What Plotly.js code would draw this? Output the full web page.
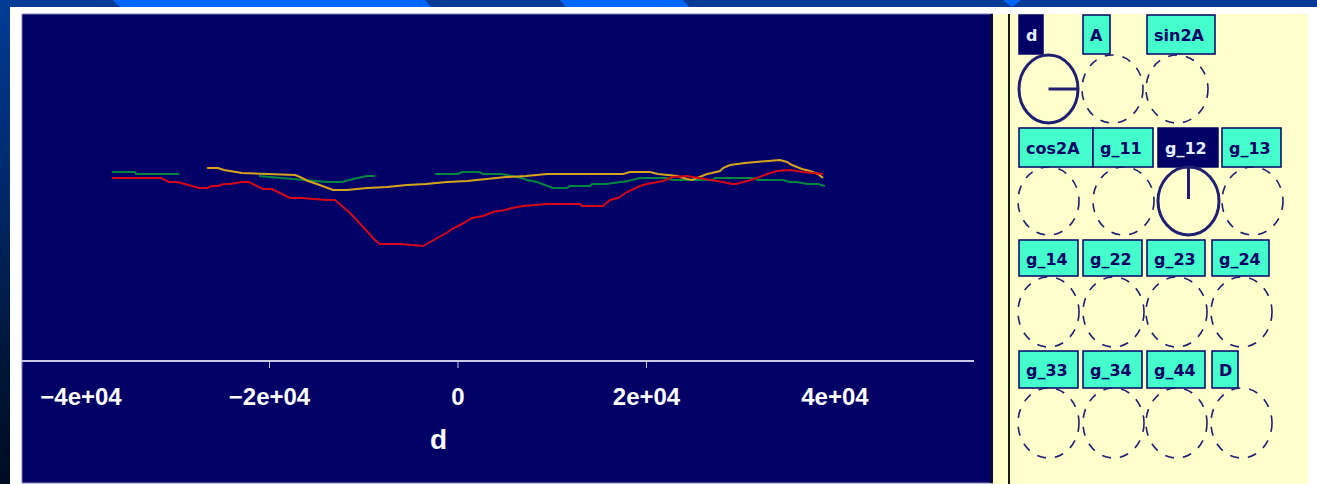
<!DOCTYPE html>
<html>
<head>
<meta charset="utf-8">
<script src="https://cdn.plot.ly/plotly-3.0.1.min.js"></script>
<style>
  html, body { margin: 0; padding: 0; background: #ffffff; }
  #wrap { position: relative; width: 1317px; height: 484px; overflow: hidden; background: #ffffff; }
  #leftbar { position: absolute; left: 0; top: 0; width: 10px; height: 484px;
             background: linear-gradient(to bottom, #003C96 0%, #002a6e 35%, #001638 75%, #000c22 100%); }
  #chart { position: absolute; left: 0; top: 0; width: 1317px; height: 484px; }
</style>
</head>
<body>
<div id="wrap">
  <div id="leftbar"></div>
  <div id="chart"></div>
</div>
<script>
// ---------------- data ----------------
const redD = [-36710,-31510,-30660,-29920,-28970,-27480,-26630,-26100,-25460,-24830,-24190,-22920,-22180,-21220,-20690,-19740,-18670,-17830,-16550,-14010,-13050,-11460,-9870,-8810,-8280,-6150,-3710,-2970,-1910,-1060,-640,420,1490,2650,3710,4990,5730,6900,9440,12940,13160,15390,16130,16980,17930,19310,20050,21010,21750,22810,24300,24930,26420,27480,28120,29070,29500,30240,30770,31720,32250,32790,33850,35230,36610,38730];
const redV = [1.82,1.82,1.78,1.78,1.76,1.72,1.72,1.74,1.74,1.76,1.76,1.78,1.78,1.74,1.71,1.71,1.66,1.62,1.62,1.60,1.60,1.47,1.31,1.20,1.16,1.16,1.14,1.18,1.23,1.28,1.31,1.36,1.42,1.44,1.48,1.50,1.52,1.54,1.56,1.56,1.54,1.54,1.60,1.62,1.68,1.74,1.76,1.78,1.79,1.83,1.84,1.83,1.81,1.79,1.78,1.76,1.76,1.78,1.79,1.82,1.84,1.86,1.89,1.90,1.88,1.86];

const yellowD = [-26630,-25460,-24830,-24190,-22920,-20160,-17290,-16760,-15920,-14960,-14110,-13260,-11780,-9660,-7530,-5410,-3400,-1170,960,3080,5090,7220,9440,17510,18250,20370,21220,22280,23240,24300,24830,25360,25890,26420,26950,27800,28120,28860,30450,32890,34160,34910,35440,35970,36500,37350,38200,38730];
const yellowV = [1.92,1.92,1.90,1.89,1.87,1.86,1.85,1.83,1.79,1.76,1.73,1.70,1.70,1.72,1.73,1.75,1.76,1.78,1.79,1.81,1.83,1.84,1.86,1.86,1.88,1.88,1.86,1.85,1.84,1.81,1.80,1.82,1.84,1.86,1.87,1.89,1.92,1.95,1.97,1.99,2.00,1.98,1.95,1.93,1.91,1.89,1.86,1.82];

const greenD = [-36710,-34270,-34160,-29600,null,-21110,-18670,-16760,-14640,-13900,-12310,-11140,-9660,-8810,null,-2440,0,420,2230,2650,4670,6790,7320,8380,9020,10080,11570,11880,14010,14220,15700,17080,18040,19310,22180,22710,27060,27270,31300,31830,34480,35230,35970,37030,38200,38940];
const greenV = [1.88,1.88,1.86,1.86,null,1.84,1.82,1.80,1.78,1.78,1.78,1.81,1.84,1.84,null,1.86,1.86,1.88,1.88,1.86,1.86,1.82,1.80,1.78,1.76,1.72,1.72,1.74,1.74,1.76,1.76,1.78,1.79,1.82,1.82,1.80,1.80,1.82,1.82,1.80,1.80,1.78,1.78,1.76,1.76,1.74];

const tickVals = [-40000,-20000,0,20000,40000];
const tickText = ['\u22124e+04','\u22122e+04','0','2e+04','4e+04'];
const tickMarks = [-20000,0,20000];
const xTitle = 'd';

const panelLabels = [['d','A','sin2A'],['cos2A','g_11','g_12','g_13'],['g_14','g_22','g_23','g_24'],['g_33','g_34','g_44','D']];
const activeLabels = ['d','g_12'];

// ---------------- layout geometry (pixels) ----------------
const W = 1317, H = 484;
const M = {l: 22, r: 343, t: 15, b: 124};
const PW = W - M.l - M.r, PH = H - M.t - M.b;
const X = px => (px - M.l) / PW;
const Y = py => (M.t + PH - py) / PH;

const boxRows = [
  {y0: 15, y1: 54, xs: [[1019,1043],[1083,1110],[1147,1215]]},
  {y0: 128, y1: 167, xs: [[1019,1093],[1093,1153],[1158,1218],[1222,1281]]},
  {y0: 240, y1: 276, xs: [[1019,1078],[1083,1142],[1147,1205],[1212,1269]]},
  {y0: 351, y1: 388, xs: [[1019,1078],[1083,1142],[1147,1205],[1212,1238]]}
];
const circleRows = [
  {y0: 55, y1: 123, xs: [[1019,1078],[1082,1143],[1146,1208]]},
  {y0: 167, y1: 235, xs: [[1018,1079],[1093,1154],[1158,1219],[1222,1283]]},
  {y0: 277, y1: 347, xs: [[1018,1079],[1083,1144],[1146,1207],[1211,1272]]},
  {y0: 388, y1: 458, xs: [[1018,1079],[1083,1144],[1146,1207],[1211,1272]]}
];

const NAVY = '#000066', CYAN = '#44FFCC', PANEL = '#FFFFCC', INK = '#1e1e72';

function rect(x0, y0, x1, y1, fill, line) {
  return {type: 'rect', xref: 'paper', yref: 'paper', layer: 'below',
    x0: X(x0), x1: X(x1), y0: Y(y1), y1: Y(y0), fillcolor: fill,
    line: line || {width: 0}};
}
function path(pts, fill) {
  const d = 'M ' + pts.map(p => X(p[0]) + ',' + Y(p[1])).join(' L ') + ' Z';
  return {type: 'path', xref: 'paper', yref: 'paper', layer: 'below', path: d,
    fillcolor: fill, line: {width: 0}};
}

const shapes = [];
// top stripe
shapes.push(rect(0, 0, W, 7, '#003C96'));
shapes.push(path([[113,0],[425,0],[431,7],[120,7]], '#0066FF'));
shapes.push(path([[560,0],[683,0],[689,7],[566,7]], '#0066FF'));
shapes.push(path([[1003,0],[1021,0],[1012,7]], '#0066FF'));
// plot background
shapes.push(rect(22, 14, 993, 483, NAVY, {color: '#8080b8', width: 1}));
shapes.push(rect(990, 14, 993, 483, '#0a0a30'));
// side panel
shapes.push(rect(993, 14, 1308, 484, PANEL));
shapes.push(rect(1008, 14, 1010, 484, '#1a1a1a'));

const annotations = [];
panelLabels.forEach((row, r) => {
  row.forEach((lab, c) => {
    const b = boxRows[r], bx = b.xs[c];
    const active = activeLabels.includes(lab);
    shapes.push(rect(bx[0], b.y0, bx[1], b.y1, active ? NAVY : CYAN, {color: NAVY, width: 1.5}));
    annotations.push({xref: 'paper', yref: 'paper', x: X(bx[0] + 5), y: Y((b.y0 + b.y1) / 2 + 1),
      xanchor: 'left', yanchor: 'middle', showarrow: false, text: lab,
      font: {family: 'DejaVu Sans', size: 16, weight: 'bold', color: active ? '#E4ECFF' : NAVY}});
    const cr = circleRows[r], cx = cr.xs[c];
    shapes.push({type: 'circle', xref: 'paper', yref: 'paper', layer: 'below',
      x0: X(cx[0]), x1: X(cx[1]), y0: Y(cr.y1), y1: Y(cr.y0),
      line: active ? {color: INK, width: 3} : {color: INK, width: 1.6, dash: 'dash'}});
    if (active) {
      const mx = (cx[0] + cx[1]) / 2, my = (cr.y0 + cr.y1) / 2;
      const seg = lab === 'd' ? [[mx, my], [cx[1] - 1, my]] : [[mx, my - 2], [mx, cr.y0 + 1]];
      shapes.push({type: 'line', xref: 'paper', yref: 'paper', layer: 'below',
        x0: X(seg[0][0]), y0: Y(seg[0][1]), x1: X(seg[1][0]), y1: Y(seg[1][1]),
        line: {color: INK, width: 3}});
    }
  });
});

// tick marks only at a subset of ticks
tickMarks.forEach(v => {
  shapes.push({type: 'line', xref: 'x', yref: 'paper', layer: 'above',
    x0: v, x1: v, y0: 0, y1: -8 / PH, line: {color: '#C8C8E8', width: 1}});
});

// axis title
annotations.push({xref: 'paper', yref: 'paper', x: X(438), y: Y(439), xanchor: 'center', yanchor: 'middle',
  showarrow: false, text: xTitle, font: {family: 'Liberation Sans', size: 28, weight: 'bold', color: '#ffffff'}});

const traces = [
  {x: greenD, y: greenV, mode: 'lines', line: {color: '#00873f', width: 2}, connectgaps: false, name: 'green'},
  {x: yellowD, y: yellowV, mode: 'lines', line: {color: '#d8a41c', width: 2}, name: 'yellow'},
  {x: redD, y: redV, mode: 'lines', line: {color: '#d40818', width: 2}, name: 'red'}
];

const layout = {
  width: W, height: H, margin: M,
  paper_bgcolor: 'rgba(0,0,0,0)', plot_bgcolor: 'rgba(0,0,0,0)',
  showlegend: false, hovermode: false,
  xaxis: {range: [-46260, 54750], showgrid: false, zeroline: false,
    showline: true, linecolor: '#C8C8E8', linewidth: 2, ticks: '',
    tickvals: tickVals, ticktext: tickText, ticklabelstandoff: 14,
    tickfont: {family: 'Liberation Sans', size: 24, weight: 'bold', color: '#ffffff'}},
  yaxis: {range: [0, 3.45], visible: false},
  shapes: shapes, annotations: annotations
};

Plotly.newPlot('chart', traces, layout, {staticPlot: true, displayModeBar: false});
</script>
</body>
</html>
